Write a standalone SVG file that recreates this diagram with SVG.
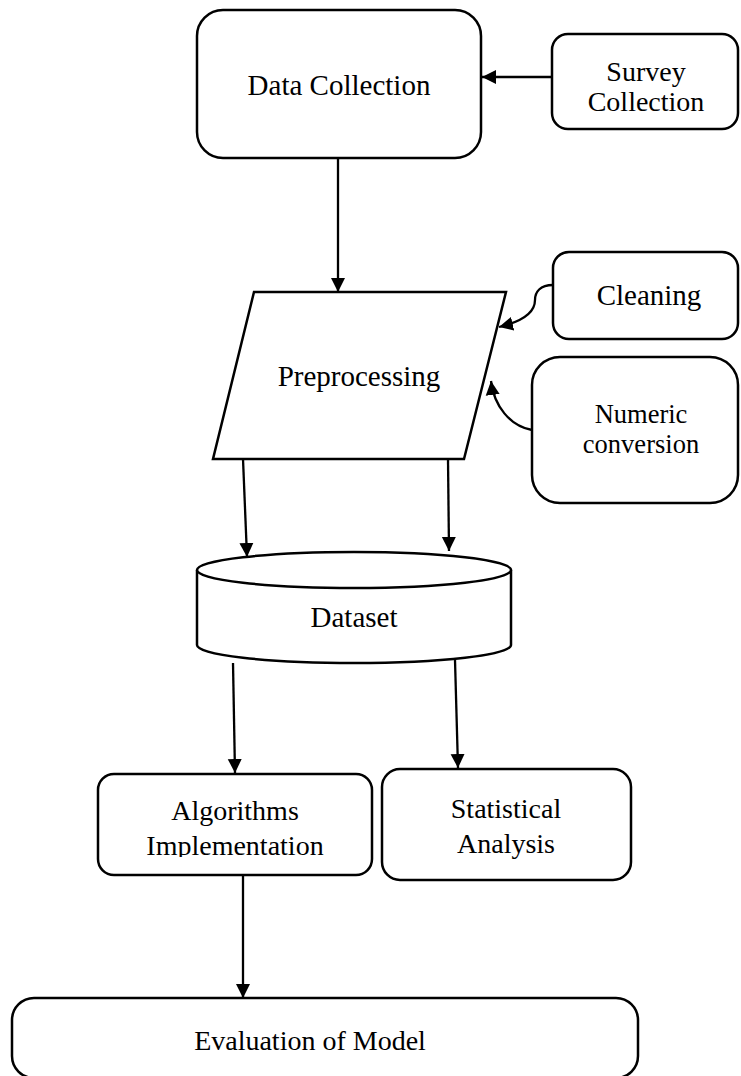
<svg xmlns="http://www.w3.org/2000/svg" width="741" height="1076" viewBox="0 0 741 1076">
<style>
.box{fill:#fff;stroke:#000;stroke-width:2.5}
.t{font-family:"Liberation Serif","Times New Roman",serif;font-size:29px;fill:#000;text-anchor:middle}
.s{font-size:28px}
.n{font-size:26.5px}
.c{fill:none;stroke:#000;stroke-width:2.3}
</style>
<defs>
<marker id="ah" markerUnits="userSpaceOnUse" markerWidth="15" markerHeight="15" viewBox="0 0 15 15" refX="14" refY="7.5" orient="auto">
<path d="M0,0.5 L14,7.5 L0,14.5 Z" fill="#000"/>
</marker>
<clipPath id="clipAlg"><rect x="90" y="770" width="290" height="87"/></clipPath>
</defs>
<rect width="741" height="1076" fill="#fff"/>
<g id="connectors">
<line class="c" x1="552" y1="77" x2="482" y2="77" marker-end="url(#ah)"/>
<line class="c" x1="338" y1="158" x2="338" y2="292" marker-end="url(#ah)"/>
<path class="c" d="M553,285 C540,285 535,292 535,300 C535,314 520,322 499,327" marker-end="url(#ah)"/>
<path class="c" d="M532,430 C510,426 494,406 491,381" marker-end="url(#ah)"/>
<line class="c" x1="243" y1="459" x2="247" y2="557" marker-end="url(#ah)"/>
<line class="c" x1="448" y1="459" x2="449" y2="551" marker-end="url(#ah)"/>
<line class="c" x1="233" y1="663" x2="235" y2="773" marker-end="url(#ah)"/>
<line class="c" x1="455" y1="660" x2="458" y2="768" marker-end="url(#ah)"/>
<line class="c" x1="243" y1="875" x2="243" y2="998" marker-end="url(#ah)"/>
</g>
<g id="data-collection">
<rect class="box" x="197" y="10" width="284" height="148" rx="26"/>
<text class="t" x="339" y="95">Data Collection</text>
</g>
<g id="survey-collection">
<rect class="box" x="552" y="34" width="186" height="95" rx="16"/>
<text class="t s" x="646" y="81">Survey</text>
<text class="t s" x="646" y="111">Collection</text>
</g>
<g id="preprocessing">
<polygon class="box" points="254,292 506,292 464,459 213,459"/>
<text class="t" x="359" y="386">Preprocessing</text>
</g>
<g id="cleaning">
<rect class="box" x="553" y="252" width="185" height="87" rx="16"/>
<text class="t" x="649" y="305">Cleaning</text>
</g>
<g id="numeric-conversion">
<rect class="box" x="532" y="357" width="206" height="146" rx="28"/>
<text class="t n" x="641" y="423">Numeric</text>
<text class="t n" x="641" y="453">conversion</text>
</g>
<g id="dataset">
<path class="box" d="M197,570 L197,645 A157,18 0 0 0 511,645 L511,570"/>
<ellipse class="box" cx="354" cy="570" rx="157" ry="18"/>
<text class="t" x="354" y="627">Dataset</text>
</g>
<g id="algorithms-implementation">
<rect class="box" x="98" y="774" width="274" height="101" rx="16"/>
<g clip-path="url(#clipAlg)">
<text class="t s" x="235" y="820">Algorithms</text>
<text class="t s" x="235" y="855">Implementation</text>
</g>
</g>
<g id="statistical-analysis">
<rect class="box" x="382" y="769" width="249" height="111" rx="18"/>
<text class="t s" x="506" y="818">Statistical</text>
<text class="t s" x="506" y="853">Analysis</text>
</g>
<g id="evaluation-of-model">
<rect class="box" x="12" y="998" width="626" height="80" rx="22"/>
<text class="t s" x="310" y="1050">Evaluation of Model</text>
</g>
</svg>
